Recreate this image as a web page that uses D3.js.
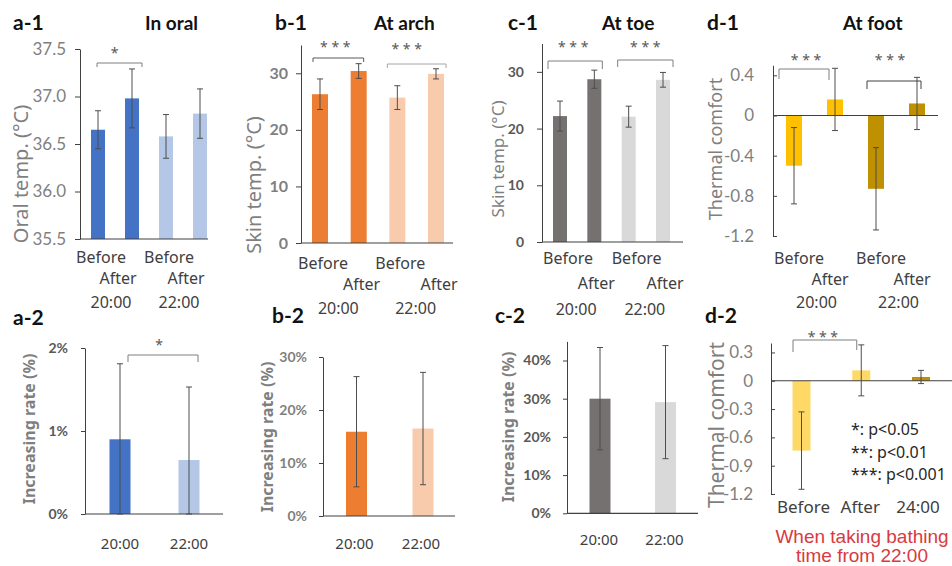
<!DOCTYPE html>
<html>
<head>
<meta charset="utf-8">
<script src="https://cdn.jsdelivr.net/npm/d3@7"></script>
<style>
  body { margin: 0; background: #fff; }
  svg { display: block; }
</style>
</head>
<body>
<div id="main"></div>
<script>
// categories
var phases = ["Before", "After"];
var times = ["20:00", "22:00"];
var bathPhases = ["Before", "After", "24:00"];

// a-1 oral temperature, mean and sd (Before/After at 20:00, Before/After at 22:00)
var oralTemp = [36.65, 36.98, 36.58, 36.82];
var oralTempSd = [0.20, 0.31, 0.23, 0.26];
// b-1 skin temperature at arch
var archTemp = [26.3, 30.4, 25.7, 29.9];
var archTempSd = [2.7, 1.3, 2.1, 0.9];
// c-1 skin temperature at toe
var toeTemp = [22.2, 28.7, 22.1, 28.6];
var toeTempSd = [2.65, 1.6, 1.85, 1.3];
// d-1 thermal comfort at foot
var footComfort = [-0.50, 0.16, -0.73, 0.12];
var footComfortSd = [0.38, 0.31, 0.41, 0.26];

// second row: increasing rate (%) at 20:00 and 22:00
var oralRate = [0.90, 0.65];
var oralRateSd = [0.91, 0.88];
var archRate = [15.9, 16.5];
var archRateSd = [10.4, 10.6];
var toeRate = [30.0, 29.1];
var toeRateSd = [13.4, 14.8];
// d-2 thermal comfort, bathing from 22:00
var bathComfort = [-0.74, 0.11, 0.04];
var bathComfortSd = [0.41, 0.27, 0.07];

var legendLines = ["*: p<0.05", "**: p<0.01", "***: p<0.001"];
var noteLines = ["When taking bathing", "time from 22:00"];

var blue = "#4472c4", lightBlue = "#b4c7e7";
var orange = "#ed7d31", lightOrange = "#f8cbad";
var gray = "#767171", lightGray = "#d9d9d9";
var gold = "#ffc000", darkGold = "#bf9000", paleGold = "#ffd966";

var numFont = "Lato, 'Noto Sans', sans-serif";
var textFont = "'Noto Sans', 'DejaVu Sans', sans-serif";

var svg = d3.select("#main")
  .append("svg")
  .attr("width", 952)
  .attr("height", 566);

svg.append("rect").attr("width", 952).attr("height", 566).attr("fill", "#fff");

var dec1 = function (d) { return d === 0 ? "0" : d.toFixed(1); };
var pct = function (d) { return d + "%"; };

var panels = [
  {
    title: "a-1", sub: "In oral", tx: 13, sx: 145, ty: 30,
    values: oralTemp, sd: oralTempSd, colors: [blue, blue, lightBlue, lightBlue],
    xr: [98, 200], bw: 14, ax: 80, xEnd: 208, yd: [35.5, 37.5], yr: [239, 49], base: 35.5,
    ticks: [35.5, 36, 36.5, 37, 37.5], fmt: function (d) { return d.toFixed(1); },
    tick: { size: 17, weight: 400, color: "#7f7f7f", len: 5, pad: 9 },
    ylab: { text: "Oral temp. (°C)", x: 20, y: 174, size: 20, weight: 400 },
    pairs: { bdx: 3, adx: -14, gdx: -4, by: 263, ay: 284, gy: 308 },
    brackets: [{ i: 0, j: 1, d1: -1, d2: 10, y: 63, e1: 67, e2: 67, sdx: -5, sy: 50, text: "*" }]
  },
  {
    title: "b-1", sub: "At arch", tx: 275, sx: 374, ty: 30,
    values: archTemp, sd: archTempSd, colors: [orange, orange, lightOrange, lightOrange],
    xr: [320, 436], bw: 16, ax: 301, xEnd: 453, yd: [0, 35], yr: [243, 45], base: 0,
    ticks: [0, 10, 20, 30], fmt: String,
    tick: { size: 16, weight: 700, color: "#7f7f7f", len: 5, pad: 8 },
    ylab: { text: "Skin temp. (°C)", x: 253, y: 185, size: 20, weight: 400 },
    pairs: { bdx: 3, adx: 3, gdx: -1, by: 269, ay: 290, gy: 314 },
    brackets: [
      { i: 0, j: 1, d1: -7, d2: 5, y: 58, e1: 62, e2: 62, sdx: -3, sy: 44, text: "* * *", c: "#595959" },
      { i: 2, j: 3, d1: -10, d2: 10, y: 64, e1: 68, e2: 68, sdx: -10, sy: 45.5, text: "* * *", c: "#a6a6a6" }
    ]
  },
  {
    title: "c-1", sub: "At toe", tx: 508, sx: 602, ty: 30,
    values: toeTemp, sd: toeTempSd, colors: [gray, gray, lightGray, lightGray],
    xr: [560, 663], bw: 14, ax: 542, xEnd: 683, yd: [0, 35], yr: [242, 43.5], base: 0,
    ticks: [0, 10, 20, 30], fmt: String,
    tick: { size: 14, weight: 700, color: "#595959", len: 5, pad: 13 },
    ylab: { text: "Skin temp. (°C)", x: 497, y: 159, size: 17, weight: 400 },
    pairs: { bdx: 8, adx: 2, gdx: -1, by: 264, ay: 289, gy: 315 },
    brackets: [
      { i: 0, j: 1, d1: -12, d2: 8, y: 61, e1: 69, e2: 69, sdx: -2, sy: 43.5, text: "* * *" },
      { i: 2, j: 3, d1: -11, d2: 10, y: 60, e1: 67, e2: 67, sdx: 0, sy: 43.5, text: "* * *" }
    ]
  },
  {
    title: "d-1", sub: "At foot", tx: 707, sx: 843, ty: 30,
    values: footComfort, sd: footComfortSd, colors: [gold, gold, darkGold, darkGold],
    xr: [794, 917], bw: 16, ax: 773, xEnd: 938, yd: [-1.2, 0.5], yr: [236, 65.3], base: 0,
    ticks: [-1.2, -0.8, -0.4, 0, 0.4], fmt: dec1,
    tick: { size: 17, weight: 400, color: "#7f7f7f", len: -4, pad: 19 },
    ylab: { text: "Thermal comfort", x: 715, y: 149, size: 18, weight: 400 },
    pairs: { bdx: 5, adx: -5, gdx: 2, by: 264, ay: 285, gy: 308 },
    brackets: [
      { i: 0, j: 1, d1: -15, d2: -6, y: 69, e1: 79, e2: 80, sdx: 2, sy: 57, text: "* * *" },
      { i: 2, j: 3, d1: -9, d2: 4, y: 81, e1: 89, e2: 89, sdx: -4, sy: 57, text: "* * *", c: "#404040" }
    ]
  },
  {
    title: "a-2", tx: 13, ty: 325,
    values: oralRate, sd: oralRateSd, colors: [blue, lightBlue],
    xr: [120, 189], bw: 21, ax: 85, xEnd: 223, yd: [0, 2], yr: [514, 348], base: 0,
    ticks: [0, 1, 2], fmt: pct,
    tick: { size: 14, weight: 700, color: "#595959", len: 4, pad: 13 },
    ylab: { text: "Increasing rate (%)", x: 29, y: 429, size: 16, weight: 700 },
    singles: { labels: times, dx: 0, y: 549, size: 15 },
    brackets: [{ i: 0, j: 1, d1: 8, d2: 9, y: 355, e1: 362, e2: 362, sdx: -4, sy: 341.5, text: "*" }]
  },
  {
    title: "b-2", tx: 272, ty: 323,
    values: archRate, sd: archRateSd, colors: [orange, lightOrange],
    xr: [356.5, 423], bw: 21, ax: 323, xEnd: 455, yd: [0, 30], yr: [516, 357], base: 0,
    ticks: [0, 10, 20, 30], fmt: pct,
    tick: { size: 14, weight: 700, color: "#7f7f7f", len: 4, pad: 12 },
    ylab: { text: "Increasing rate (%)", x: 267, y: 437, size: 16, weight: 700 },
    singles: { labels: times, dx: -2, y: 549, size: 15 },
    brackets: []
  },
  {
    title: "c-2", tx: 495, ty: 323,
    values: toeRate, sd: toeRateSd, colors: [gray, lightGray],
    xr: [600, 665.5], bw: 21, ax: 567, xEnd: 698, yd: [0, 45], yr: [513.3, 341.4], base: 0,
    ticks: [0, 10, 20, 30, 40], fmt: pct,
    tick: { size: 14, weight: 700, color: "#595959", len: 4, pad: 12 },
    ylab: { text: "Increasing rate (%)", x: 508, y: 427, size: 16, weight: 700 },
    singles: { labels: times, dx: -1, y: 545, size: 15 },
    brackets: []
  },
  {
    title: "d-2", tx: 705, ty: 323,
    values: bathComfort, sd: bathComfortSd, colors: [paleGold, paleGold, darkGold],
    xr: [801.5, 921], bw: 18, ax: 771, xEnd: 952, yd: [-1.2, 0.4], yr: [494, 343], base: 0,
    ticks: [-1.2, -0.9, -0.6, -0.3, 0, 0.3], fmt: dec1,
    tick: { size: 17, weight: 400, color: "#7f7f7f", len: -4, pad: 18 },
    ylab: { text: "Thermal comfort", x: 716, y: 425, size: 21, weight: 400 },
    singles: { labels: bathPhases, dx: [2, -1, -3], y: 513, size: 17 },
    brackets: [{ i: 0, j: 1, d1: -8.5, d2: -4.5, y: 340, e1: 352, e2: 350, sdx: -2, sy: 333.5, text: "* * *" }]
  }
];

function drawPanel(p) {
  var g = svg.append("g");
  var n = p.values.length;
  var x = d3.scalePoint().domain(d3.range(n)).range(p.xr);
  var y = d3.scaleLinear().domain(p.yd).range(p.yr).clamp(true);

  // titles
  g.append("text").attr("x", p.tx).attr("y", p.ty).text(p.title)
    .style("font-family", numFont).style("font-weight", 700).style("font-size", "21px").attr("fill", "#111");
  if (p.sub) {
    g.append("text").attr("x", p.sx).attr("y", p.ty).text(p.sub)
      .style("font-family", numFont).style("font-weight", 700).style("font-size", "19px").attr("fill", "#111");
  }

  // bars
  g.selectAll("rect.bar").data(p.values).enter().append("rect")
    .attr("class", "bar")
    .attr("x", function (d, i) { return x(i) - p.bw / 2; })
    .attr("y", function (d) { return Math.min(y(d), y(p.base)); })
    .attr("width", p.bw)
    .attr("height", function (d) { return Math.abs(y(d) - y(p.base)); })
    .attr("fill", function (d, i) { return p.colors[i]; });

  // y axis
  var axis = d3.axisLeft(y).tickValues(p.ticks).tickFormat(p.fmt)
    .tickSizeInner(p.tick.len).tickSizeOuter(0).tickPadding(p.tick.pad);
  var ag = g.append("g").attr("transform", "translate(" + p.ax + ",0)").call(axis);
  ag.select(".domain").attr("stroke", "#404040");
  ag.selectAll(".tick line").attr("stroke", "#404040");
  ag.selectAll(".tick text")
    .style("font-family", numFont).style("font-size", p.tick.size + "px")
    .style("font-weight", p.tick.weight).attr("fill", p.tick.color);

  // horizontal axis line
  g.append("line")
    .attr("x1", p.ax).attr("x2", p.xEnd)
    .attr("y1", y(p.base)).attr("y2", y(p.base))
    .attr("stroke", "#404040").attr("stroke-width", 1.2);

  // error bars
  var eb = g.selectAll("g.err").data(p.values).enter().append("g").attr("class", "err");
  eb.append("line")
    .attr("x1", function (d, i) { return x(i); }).attr("x2", function (d, i) { return x(i); })
    .attr("y1", function (d, i) { return y(d + p.sd[i]); })
    .attr("y2", function (d, i) { return y(d - p.sd[i]); });
  eb.append("line")
    .attr("x1", function (d, i) { return x(i) - 3; }).attr("x2", function (d, i) { return x(i) + 3; })
    .attr("y1", function (d, i) { return y(d + p.sd[i]); })
    .attr("y2", function (d, i) { return y(d + p.sd[i]); });
  eb.append("line")
    .attr("x1", function (d, i) { return x(i) - 3; }).attr("x2", function (d, i) { return x(i) + 3; })
    .attr("y1", function (d, i) { return y(d - p.sd[i]); })
    .attr("y2", function (d, i) { return y(d - p.sd[i]); });
  eb.selectAll("line").attr("stroke", "#4d4d4d").attr("stroke-width", 1);

  // y label
  g.append("text")
    .attr("transform", "translate(" + p.ylab.x + "," + p.ylab.y + ") rotate(-90)")
    .attr("text-anchor", "middle").attr("dominant-baseline", "central")
    .style("font-family", textFont).style("font-size", p.ylab.size + "px")
    .style("font-weight", p.ylab.weight).attr("fill", "#7f7f7f")
    .text(p.ylab.text);

  // category labels
  if (p.pairs) {
    var L = p.pairs;
    g.selectAll("text.ph").data(p.values).enter().append("text")
      .attr("x", function (d, i) { return x(i) + (i % 2 ? L.adx : L.bdx); })
      .attr("y", function (d, i) { return i % 2 ? L.ay : L.by; })
      .attr("text-anchor", "middle")
      .style("font-family", textFont).style("font-size", "16px").attr("fill", "#404040")
      .text(function (d, i) { return phases[i % 2]; });
    g.selectAll("text.grp").data(times).enter().append("text")
      .attr("x", function (d, k) { return (x(2 * k) + x(2 * k + 1)) / 2 + L.gdx; })
      .attr("y", L.gy)
      .attr("text-anchor", "middle")
      .style("font-family", textFont).style("font-size", "16px").attr("fill", "#404040")
      .text(function (d) { return d; });
  }
  if (p.singles) {
    var S = p.singles;
    g.selectAll("text.sg").data(S.labels).enter().append("text")
      .attr("x", function (d, i) { return x(i) + (Array.isArray(S.dx) ? S.dx[i] : S.dx); })
      .attr("y", S.y)
      .attr("text-anchor", "middle")
      .style("font-family", textFont).style("font-size", S.size + "px").attr("fill", "#404040")
      .text(function (d) { return d; });
  }

  // significance brackets
  p.brackets.forEach(function (b) {
    var x1 = x(b.i) + b.d1, x2 = x(b.j) + b.d2;
    g.append("path")
      .attr("d", "M" + x1 + "," + b.e1 + "V" + b.y + "H" + x2 + "V" + b.e2)
      .attr("fill", "none").attr("stroke", b.c || "#7f7f7f").attr("stroke-width", 1);
    g.append("text")
      .attr("x", (x1 + x2) / 2 + b.sdx).attr("y", b.sy + 8)
      .attr("text-anchor", "middle")
      .style("font-family", textFont).style("font-size", "14px").attr("fill", "#595959")
      .text(b.text);
  });
}

panels.forEach(drawPanel);

// p-value legend inside d-2
svg.selectAll("text.leg").data(legendLines).enter().append("text")
  .attr("x", 851)
  .attr("y", function (d, i) { return 435 + i * 22.5; })
  .style("font-family", textFont).style("font-size", "16px").attr("fill", "#262626")
  .text(function (d) { return d; });

// red note under d-2
svg.selectAll("text.note").data(noteLines).enter().append("text")
  .attr("x", 862)
  .attr("y", function (d, i) { return 543 + i * 19; })
  .attr("text-anchor", "middle")
  .style("font-family", "'Liberation Sans', Arial, sans-serif").style("font-size", "19px").attr("fill", "#d93a40")
  .text(function (d) { return d; });
</script>
</body>
</html>
